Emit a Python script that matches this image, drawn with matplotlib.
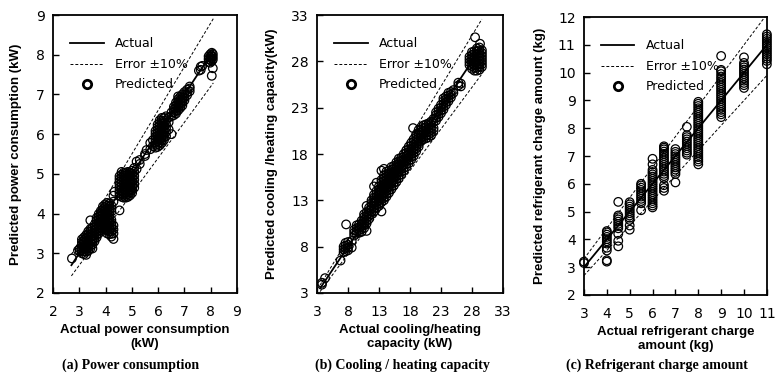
import matplotlib
matplotlib.use("Agg")
import matplotlib.pyplot as plt
from matplotlib.lines import Line2D

# (a) power consumption: actual value -> predicted values
power_actual = [2.72, 2.95, 3.02, 3.10, 3.18, 3.26, 3.34, 3.42, 3.50, 3.58, 3.66, 3.74,
                3.82, 3.90, 3.98, 4.06, 4.14, 4.22, 4.30, 4.34, 4.53, 4.61, 4.69, 4.77,
                4.85, 4.93, 5.01, 5.09, 5.18, 5.30, 5.50, 5.56, 5.70, 5.80, 5.90, 5.98,
                6.06, 6.14, 6.22, 6.30, 6.40, 6.51, 6.60, 6.68, 6.76, 6.84, 6.92, 7.00,
                7.10, 7.20, 7.55, 7.62, 7.68, 7.92, 7.98, 8.04, 8.08]
power_pred = [
    [2.87], [3.07], [3.05, 3.12],
    [3.00, 3.07, 3.14, 3.21, 3.28, 3.35],
    [2.98, 3.05, 3.12, 3.19, 3.26, 3.33, 3.40],
    [2.96, 3.04, 3.11, 3.18, 3.25, 3.32, 3.39, 3.46],
    [3.06, 3.13, 3.20, 3.27, 3.34, 3.41, 3.48, 3.55],
    [3.12, 3.19, 3.26, 3.33, 3.40, 3.47, 3.54, 3.61, 3.83],
    [3.12, 3.22, 3.29, 3.36, 3.43, 3.50, 3.57, 3.64],
    [3.30, 3.37, 3.44, 3.51, 3.58, 3.65, 3.72],
    [3.40, 3.47, 3.54, 3.61, 3.68, 3.75, 3.82, 3.89],
    [3.50, 3.57, 3.64, 3.71, 3.78, 3.85, 3.92, 3.99],
    [3.58, 3.65, 3.72, 3.79, 3.86, 3.93, 4.00, 4.07],
    [3.62, 3.69, 3.76, 3.83, 3.90, 3.97, 4.04, 4.11, 4.18],
    [3.60, 3.67, 3.74, 3.81, 3.88, 3.95, 4.02, 4.09, 4.16, 4.23],
    [3.50, 3.57, 3.64, 3.71, 3.78, 3.85, 3.92, 3.99, 4.06, 4.13, 4.20, 4.27],
    [3.48, 3.55, 3.62, 3.69, 3.76, 3.83, 3.90, 3.97, 4.04, 4.11, 4.18, 4.25],
    [3.42, 3.49, 3.56, 3.63, 3.70, 3.77, 3.84, 4.05, 4.12, 4.20],
    [3.36, 3.50, 3.60, 3.70, 4.30, 4.45],
    [4.55],
    [4.08, 4.45, 4.52, 4.59, 4.66, 4.73, 4.80, 4.87, 4.94],
    [4.42, 4.49, 4.56, 4.63, 4.70, 4.77, 4.84, 4.91, 4.98, 5.05],
    [4.40, 4.47, 4.54, 4.61, 4.68, 4.75, 4.82, 4.89, 4.96, 5.03],
    [4.40, 4.47, 4.54, 4.61, 4.68, 4.75, 4.82, 4.89, 4.96, 5.03],
    [4.42, 4.49, 4.56, 4.63, 4.70, 4.77, 4.84, 4.91, 4.98, 5.05],
    [4.46, 4.53, 4.60, 4.67, 4.74, 4.81, 4.88, 4.95, 5.02],
    [4.52, 4.59, 4.66, 4.73, 4.80, 4.87, 4.94, 5.01, 5.08],
    [4.65, 4.75, 4.85, 4.95, 5.05, 5.15],
    [5.31, 5.12], [5.25, 5.35], [5.50, 5.45], [5.60], [5.62, 5.78], [5.70, 5.85],
    [5.66, 5.73, 5.80, 5.87, 5.94, 6.01, 6.08],
    [5.68, 5.75, 5.82, 5.89, 5.96, 6.03, 6.10, 6.17, 6.24],
    [5.72, 5.79, 5.86, 5.93, 6.00, 6.07, 6.14, 6.21, 6.28, 6.35],
    [5.78, 5.85, 5.92, 5.99, 6.06, 6.13, 6.20, 6.27, 6.34, 6.41],
    [5.85, 5.92, 5.99, 6.06, 6.13, 6.20, 6.27, 6.34, 6.41],
    [5.95, 6.05, 6.15, 6.25, 6.35, 6.45],
    [6.12, 6.30, 6.42],
    [6.00, 6.45, 6.55],
    [6.48, 6.55, 6.62, 6.69],
    [6.52, 6.59, 6.66, 6.73, 6.80],
    [6.60, 6.67, 6.74, 6.81, 6.88, 6.95],
    [6.66, 6.73, 6.80, 6.87, 6.94],
    [6.72, 6.79, 6.86, 6.93, 7.00],
    [6.85, 6.92, 6.99, 7.06],
    [6.98, 7.05, 7.12],
    [7.08, 7.15, 7.20],
    [7.60], [7.62, 7.70], [7.72],
    [7.82, 7.89, 7.96],
    [7.80, 7.87, 7.94, 8.01],
    [7.84, 7.91, 7.98, 8.05, 7.47],
    [7.66, 7.88, 7.95, 8.02],
]

# (b) cooling / heating capacity
cap_actual = [3.8, 4.3, 6.8, 7.3, 7.6, 7.7, 8.0, 8.6, 9.0, 9.4, 9.8, 10.2, 10.6, 11.0,
              11.4, 11.8, 12.2, 12.6, 13.0, 13.4, 13.8, 14.2, 14.6, 15.0, 15.4, 15.8,
              16.2, 16.6, 17.0, 17.4, 17.8, 18.2, 18.5, 18.6, 19.0, 19.4, 19.8, 20.2,
              20.6, 21.0, 21.4, 21.8, 22.2, 22.6, 23.0, 23.4, 23.8, 24.2, 24.6, 25.0,
              25.8, 26.2, 27.6, 28.0, 28.4, 28.8, 29.2, 29.6, 28.5, 29.3]
cap_pred = [
    [3.9, 4.1], [4.6], [6.5], [7.4, 7.7, 8.0], [7.5, 7.8, 8.1, 8.4], [10.4],
    [7.6, 7.9, 8.2, 8.5], [7.9, 8.6], [9.2, 9.5, 9.8], [9.4, 9.7, 10.0, 10.3],
    [9.5, 9.8, 10.1, 10.4], [9.6, 9.9, 10.2, 10.5, 10.8],
    [10.0, 10.3, 10.6, 10.9, 11.2, 11.5],
    [9.7, 10.5, 10.8, 11.1, 11.4, 11.7, 12.4],
    [11.0, 11.3, 11.6, 11.9, 12.2],
    [11.5, 11.8, 12.1, 12.4, 12.7, 13.0],
    [11.8, 12.1, 12.4, 12.7, 13.0, 13.3, 13.6, 14.5],
    [12.2, 12.5, 12.8, 13.1, 13.4, 13.7, 14.0, 14.9],
    [12.4, 12.7, 13.0, 13.3, 13.6, 13.9, 14.2, 14.5],
    [11.8, 12.8, 13.1, 13.4, 13.7, 14.0, 14.3, 14.6, 14.9, 15.2, 16.2],
    [13.0, 13.3, 13.6, 13.9, 14.2, 14.5, 14.8, 15.1, 15.4, 15.7, 16.4],
    [13.4, 13.7, 14.0, 14.3, 14.6, 14.9, 15.2, 15.5, 15.8, 16.1],
    [13.8, 14.1, 14.4, 14.7, 15.0, 15.3, 15.6, 15.9, 16.2],
    [14.2, 14.5, 14.8, 15.1, 15.4, 15.7, 16.0, 16.3, 16.6],
    [14.6, 14.9, 15.2, 15.5, 15.8, 16.1, 16.4, 16.7],
    [15.0, 15.3, 15.6, 15.9, 16.2, 16.5, 16.8, 17.1],
    [15.4, 15.7, 16.0, 16.3, 16.6, 16.9, 17.2, 17.5],
    [15.8, 16.1, 16.4, 16.7, 17.0, 17.3, 17.6],
    [16.2, 16.5, 16.8, 17.1, 17.4, 17.7, 18.0],
    [16.6, 16.9, 17.2, 17.5, 17.8, 18.1, 18.4],
    [17.0, 17.3, 17.6, 17.9, 18.2, 18.5, 18.8],
    [17.4, 17.7, 18.0, 18.3, 18.6, 18.9, 19.2],
    [20.8],
    [17.8, 18.1, 18.4, 18.7, 19.0, 19.3, 19.6],
    [18.3, 18.6, 18.9, 19.2, 19.5, 19.8, 20.1],
    [18.8, 19.1, 19.4, 19.7, 20.0, 20.3, 20.6],
    [19.4, 19.7, 20.0, 20.3, 20.6, 20.9],
    [19.6, 19.9, 20.2, 20.5, 20.8, 21.1],
    [19.7, 20.0, 20.3, 20.6, 20.9, 21.2],
    [19.8, 20.1, 20.4, 20.7, 21.0, 21.3],
    [20.0, 20.3, 20.6, 20.9, 21.2, 21.5],
    [20.5, 20.8, 21.5, 21.8],
    [21.6, 21.9, 22.2, 22.5],
    [22.0, 22.3, 22.6, 22.9],
    [22.4, 22.7, 23.0, 23.3],
    [22.8, 23.1, 23.4, 23.7, 24.0],
    [23.3, 23.6, 23.9, 24.2],
    [23.7, 24.0, 24.3, 24.6],
    [24.1, 24.4, 24.7],
    [24.6, 24.9],
    [25.4, 25.7], [25.3, 25.6],
    [27.6, 27.9, 28.2, 28.5],
    [27.2, 27.5, 27.8, 28.1, 28.4, 28.7, 29.0],
    [27.0, 27.3, 27.6, 27.9, 28.2, 28.5, 28.8, 29.1],
    [27.0, 27.3, 27.6, 27.9, 28.2, 28.5, 28.8, 29.1, 29.4],
    [27.1, 27.4, 27.7, 28.0, 28.3, 28.6, 28.9, 29.2, 29.5],
    [27.4, 27.7, 28.0, 28.3, 28.6, 28.9, 29.2],
    [30.6], [29.9],
]

# (c) refrigerant charge amount
charge_actual = [3.0, 4.0, 4.5, 5.0, 5.5, 6.0, 6.5, 7.0, 7.5, 8.0, 9.0, 10.0, 11.0]
charge_pred = [
    [3.15, 3.20],
    [3.20, 3.25, 3.60, 3.70, 3.85, 3.93, 4.01, 4.09, 4.17, 4.25, 4.30],
    [3.75, 3.95, 4.20, 4.40, 4.48, 4.56, 4.64, 4.72, 4.80, 4.86, 5.35],
    [4.35, 4.50, 4.70, 4.78, 4.86, 4.94, 5.02, 5.10, 5.18, 5.26, 5.34],
    [5.05, 5.30, 5.38, 5.46, 5.54, 5.62, 5.70, 5.78, 5.86, 5.94, 6.00],
    [5.15, 5.22, 5.30, 5.38, 5.46, 5.54, 5.62, 5.70, 5.78, 5.86, 5.94, 6.02,
     6.10, 6.18, 6.26, 6.34, 6.42, 6.50, 6.70, 6.90],
    [5.75, 5.85, 5.95, 6.20, 6.28, 6.36, 6.44, 6.52, 6.60, 6.68, 6.76, 6.84,
     6.92, 7.00, 7.08, 7.16, 7.24, 7.30, 7.35],
    [6.05, 6.35, 6.43, 6.51, 6.59, 6.67, 6.75, 6.83, 6.91, 6.99, 7.07, 7.15, 7.25],
    [7.05, 7.12, 7.20, 7.28, 7.36, 7.44, 7.52, 7.60, 7.68, 7.75, 8.05],
    [6.70, 6.80, 6.88, 6.96, 7.04, 7.12, 7.20, 7.28, 7.36, 7.44, 7.52, 7.60,
     7.68, 7.76, 7.84, 7.92, 8.00, 8.08, 8.16, 8.24, 8.32, 8.40, 8.48, 8.56,
     8.64, 8.72, 8.80, 8.88, 8.95],
    [8.40, 8.50, 8.58, 8.66, 8.74, 8.82, 8.90, 8.98, 9.06, 9.14, 9.22, 9.30,
     9.38, 9.46, 9.54, 9.62, 9.70, 9.78, 9.86, 9.95, 10.05, 10.10, 10.60],
    [9.45, 9.55, 9.63, 9.71, 9.79, 9.87, 9.95, 10.03, 10.11, 10.19, 10.27,
     10.35, 10.55],
    [10.30, 10.42, 10.50, 10.58, 10.66, 10.74, 10.82, 10.90, 10.98, 11.06,
     11.14, 11.22, 11.30, 11.38],
]

panels = [
    dict(actual=power_actual, pred=power_pred, lim=(2, 9), ticks=range(2, 10),
         ylim=(2, 9), yticks=range(2, 10), line=(2.7, 8.1),
         xlabel="Actual power consumption\n(kW)",
         ylabel="Predicted power consumption (kW)",
         caption="(a) Power consumption",
         pos=[0.0684, 0.241, 0.2374, 0.720], ylx=-0.20, capx=0.168),
    dict(actual=cap_actual, pred=cap_pred, lim=(3, 33), ticks=range(3, 34, 5),
         ylim=(3, 33), yticks=range(3, 34, 5), line=(3.5, 29.6),
         xlabel="Actual cooling/heating\ncapacity (kW)",
         ylabel="Predicted cooling /heating capacity(kW)",
         caption="(b) Cooling / heating capacity",
         pos=[0.409, 0.241, 0.240, 0.720], ylx=-0.242, capx=0.519),
    dict(actual=charge_actual, pred=charge_pred, lim=(3, 11), ticks=range(3, 12),
         ylim=(2, 12), yticks=range(2, 13), line=(3.0, 11.0),
         xlabel="Actual refrigerant charge\namount (kg)",
         ylabel="Predicted refrigerant charge amount (kg)",
         caption="(c) Refrigerant charge amount",
         pos=[0.7535, 0.2358, 0.236, 0.720], ylx=-0.24, capx=0.848),
]

fig = plt.figure(figsize=(7.75, 3.86), dpi=100)

for p in panels:
    ax = fig.add_axes(p["pos"])
    xs, ys = [], []
    for a, preds in zip(p["actual"], p["pred"]):
        for v in preds:
            xs.append(a)
            ys.append(v)
    x0, x1 = p["line"]
    ax.plot([x0, x1], [x0, x1], color="black", lw=1.3, zorder=3)
    ax.plot([x0, x1], [1.1 * x0, 1.1 * x1], color="black", lw=0.7,
            ls=(0, (3, 2)), zorder=3)
    ax.plot([x0, x1], [0.9 * x0, 0.9 * x1], color="black", lw=0.7,
            ls=(0, (3, 2)), zorder=3)
    ax.scatter(xs, ys, s=38, facecolors="none", edgecolors="black",
               linewidths=0.9, zorder=2, clip_on=False)
    ax.set_xlim(p["lim"])
    ax.set_ylim(p["ylim"])
    ax.set_xticks(list(p["ticks"]))
    ax.set_yticks(list(p["yticks"]))
    ax.tick_params(direction="in", length=4, width=1, labelsize=10,
                   top=False, right=False)
    ax.tick_params(axis="x", pad=9)
    ax.tick_params(axis="y", pad=6)
    for s in ax.spines.values():
        s.set_linewidth(1.3)
    ax.set_xlabel(p["xlabel"], fontsize=9.5, fontweight="bold",
                  family="Liberation Sans", linespacing=1.2)
    ax.xaxis.set_label_coords(0.5, -0.112)
    ax.set_ylabel(p["ylabel"], fontsize=9.5, fontweight="bold",
                  family="Liberation Sans", va="center")
    ax.yaxis.set_label_coords(p["ylx"], 0.5)

    handles = [
        Line2D([], [], color="black", lw=1.3),
        Line2D([], [], color="black", lw=0.7, ls=(0, (3, 2))),
        Line2D([], [], ls="none", marker="o", mfc="white", mec="black",
               mew=2.0, ms=6),
    ]
    ax.legend(handles, ["Actual", "Error \u00b110%", "Predicted"],
              loc="upper left", bbox_to_anchor=(0.03, 0.96), frameon=False,
              fontsize=9, handlelength=2.7, handletextpad=0.9,
              labelspacing=0.6)

    fig.text(p["capx"], 0.054, p["caption"], ha="center", va="center",
             fontsize=10, fontweight="bold", family="Liberation Serif")

fig.savefig("out.png", dpi=100)
